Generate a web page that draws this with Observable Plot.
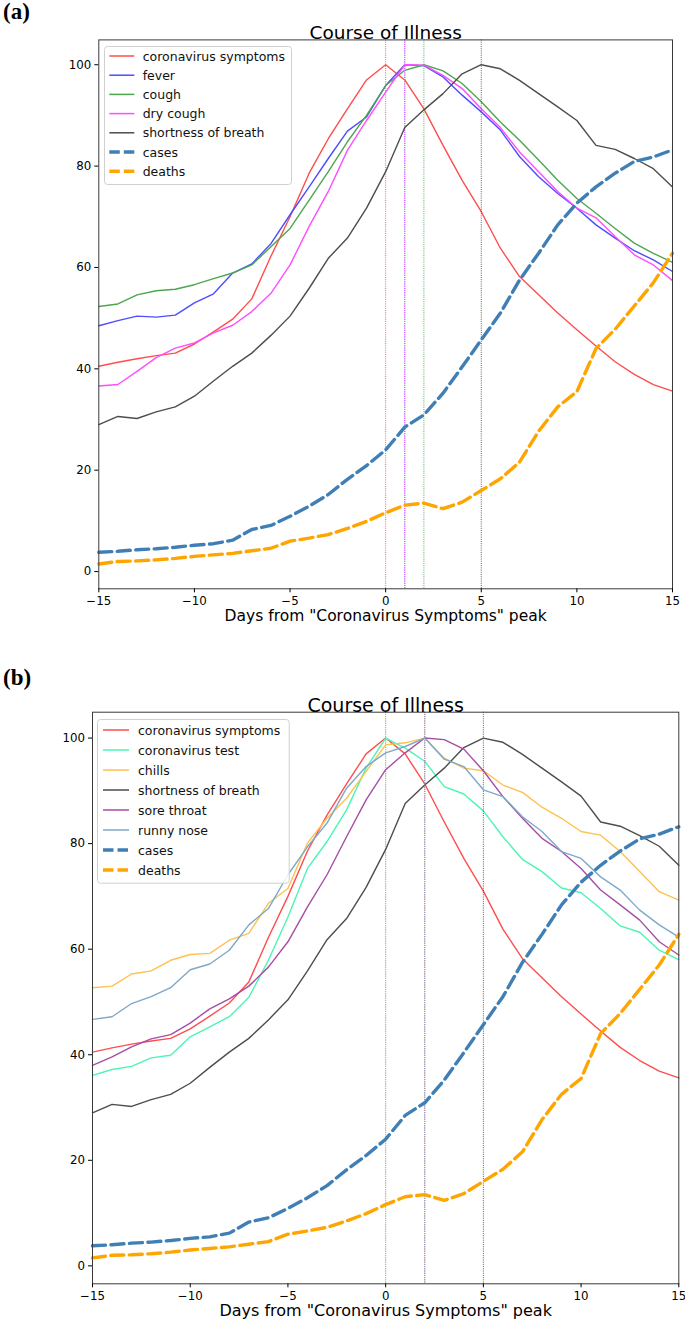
<!DOCTYPE html>
<html><head><meta charset="utf-8">
<script src="https://cdn.jsdelivr.net/npm/d3@7"></script>
<script src="https://cdn.jsdelivr.net/npm/@observablehq/plot@0.6"></script>
<style>
body{margin:0;background:#fff;font-family:"DejaVu Sans",sans-serif;}
#root{position:relative;width:685px;height:1325px;overflow:hidden;background:#fff;}
.abs{position:absolute;display:block;}
.plabel{position:absolute;font-family:"Liberation Serif","Times New Roman",serif;font-weight:bold;font-size:23px;line-height:1;color:#000;}
</style></head><body><div id="root"></div>
<script>
// ---- data ----
const days = [-15,-14,-13,-12,-11,-10,-9,-8,-7,-6,-5,-4,-3,-2,-1,0,1,2,3,4,5,6,7,8,9,10,11,12,13,14,15];
const xTicks = [-15,-10,-5,0,5,10,15];
const yTicks = [0,20,40,60,80,100];

const symptoms = [40.5,41.3,42.0,42.6,43.1,44.9,47.3,49.8,53.8,62.2,70.0,78.6,85.4,91.3,97.0,100,
  97.0,91.3,84.1,77.2,71.0,63.8,58.2,54.6,51.0,47.7,44.5,41.4,38.9,36.9,35.6];
const fever = [48.5,49.5,50.4,50.2,50.6,53.0,54.8,58.9,60.7,64.7,70.4,75.9,81.5,86.9,89.7,95.9,
  100,99.8,97.6,94.0,90.7,87.1,81.9,77.9,74.6,71.7,68.4,65.8,63.3,61.5,59.2];
const cough = [52.3,52.8,54.6,55.4,55.7,56.6,57.8,58.9,60.5,64.1,67.7,73.3,78.9,84.8,90.0,95.9,
  98.9,100,98.8,96.3,92.7,88.7,85.1,81.2,77.2,73.6,70.7,67.7,64.8,62.8,61.0];
const dryCough = [36.6,36.9,39.5,42.2,44.1,45.1,47.1,48.6,51.3,54.9,60.5,68.1,75.0,83.1,89.0,94.6,
  100,99.9,97.9,95.3,91.3,87.6,82.8,78.9,75.0,71.7,69.8,66.1,62.5,60.5,57.4];
const shortnessOfBreath = [29.0,30.6,30.2,31.5,32.5,34.6,37.6,40.5,43.1,46.6,50.4,55.9,61.8,65.8,71.7,78.9,
  87.6,91.1,94.3,98.2,100,99.2,96.9,94.3,91.7,89.0,84.1,83.3,81.5,79.5,75.9];
const coronavirusTest = [36.1,37.2,37.8,39.4,39.9,43.4,45.3,47.2,50.9,57.9,66.1,75.3,80.4,86.4,94.3,100,
  98.1,95.6,90.8,89.4,86.2,81.3,77.0,74.7,71.6,70.7,67.7,64.4,63.2,59.8,58.0];
const chills = [52.7,53.0,55.3,55.9,57.9,59.0,59.2,61.7,63.0,68.7,71.5,80.1,84.8,88.6,93.7,98.7,
  99.1,100,96.2,94.3,93.8,91.1,89.7,86.9,84.8,82.3,81.6,78.5,74.7,70.9,69.3];
const soreThroat = [38.0,39.6,41.5,43.0,43.8,46.0,48.7,50.6,53.0,56.6,61.4,68.0,74.1,81.3,88.3,94.0,
  97.2,100,99.7,97.9,93.8,88.9,84.8,81.0,78.5,75.3,71.2,68.4,65.5,61.4,58.9];
const runnyNose = [46.7,47.2,49.7,51.0,52.7,56.1,57.2,59.8,64.6,67.7,74.1,79.4,83.9,90.5,94.6,97.2,
  98.4,100,96.0,94.6,90.2,88.9,85.1,82.3,78.5,77.2,73.7,71.2,67.4,64.6,62.3];
const cases = [3.8,4.0,4.3,4.5,4.8,5.2,5.5,6.2,8.3,9.1,10.9,12.9,15.2,18.2,20.9,24.0,
  28.5,30.9,35.2,40.4,45.7,51.0,57.5,62.8,68.4,72.7,75.9,78.6,80.9,81.8,83.2];
const deaths = [1.5,2.0,2.1,2.3,2.6,3.0,3.3,3.6,4.1,4.6,6.0,6.6,7.3,8.5,9.9,11.6,
  13.1,13.5,12.4,13.7,16.0,18.3,21.6,27.7,32.5,35.5,44.0,47.8,52.4,57.0,62.8];

const panelASeries = ["coronavirus symptoms","fever","cough","dry cough","shortness of breath"];
const panelBSeries = ["coronavirus symptoms","coronavirus test","chills","shortness of breath","sore throat","runny nose"];
const outcomeSeries = ["cases","deaths"];

const title = "Course of Illness";
const xLabel = "Days from \"Coronavirus Symptoms\" peak";

// ---- lookup & styles ----
const VALUES = {
  "coronavirus symptoms": symptoms, "fever": fever, "cough": cough, "dry cough": dryCough,
  "shortness of breath": shortnessOfBreath, "coronavirus test": coronavirusTest, "chills": chills,
  "sore throat": soreThroat, "runny nose": runnyNose, "cases": cases, "deaths": deaths
};
const COLORS = {
  "coronavirus symptoms": "#ff4d4d", "fever": "#4d4dff", "cough": "#4da64d", "dry cough": "#ff4dff",
  "shortness of breath": "#4d4d4d", "coronavirus test": "#4cf5b2", "chills": "#ffc04d",
  "sore throat": "#a64da6", "runny nose": "#7ea8ca", "cases": "#3f7fb5", "deaths": "#ffa500"
};

function rowsOf(name){ return VALUES[name].map((v,i)=>({day: days[i], value: v, series: name})); }

function makePanel(cfg){
  const marks = [];
  cfg.series.forEach(name => {
    marks.push(Plot.line(rowsOf(name), {x:"day", y:"value", stroke: COLORS[name], strokeWidth: 1.4}));
    const peak = [{day: days[d3.maxIndex(VALUES[name])]}];
    marks.push(Plot.ruleX(peak, {x:"day", stroke: COLORS[name], strokeWidth: 0.9, strokeDasharray: "1,1.2"}));
  });
  outcomeSeries.forEach(name => {
    marks.push(Plot.line(rowsOf(name), {x:"day", y:"value", stroke: COLORS[name], strokeWidth: 3.4, strokeDasharray: "13,5.5"}));
  });
  marks.push(Plot.frame({stroke:"#3a3a3a", strokeWidth:1}));
  marks.push(Plot.axisX({ticks: xTicks, tickSize: 4, tickPadding: 3.5, label: null, tickFormat: d => d < 0 ? "\u2212" + (-d) : String(d)}));
  marks.push(Plot.axisY({ticks: yTicks, tickSize: 4, tickPadding: 3.5, label: null}));
  marks.push(Plot.text([title], {text: d => d, frameAnchor: "top", dy: cfg.titleDy, fontSize: cfg.titleSize, fill: "#000"}));
  marks.push(Plot.text([xLabel], {text: d => d, frameAnchor: "bottom", dy: 31.7, fontSize: cfg.labelSize, fill: "#000"}));
  const svg = Plot.plot({
    width: 685, height: cfg.height,
    marginTop: cfg.mt, marginBottom: cfg.mb, marginLeft: cfg.ml, marginRight: cfg.mr,
    x: {domain: [-15, 15]},
    y: {domain: [-3.4, 104.9]},
    style: {fontFamily: "'DejaVu Sans', sans-serif", fontSize: "11.8px", color: "#000", background: "transparent", overflow: "visible"},
    marks
  });
  svg.classList.add("abs");
  svg.style.left = "0px";
  svg.style.top = cfg.top + "px";
  document.getElementById("root").appendChild(svg);
}

function makeLegend(names, box){
  const svg = d3.select("#root").append("svg").attr("class","abs")
    .style("left", box.left + "px").style("top", box.top + "px")
    .attr("width", box.w + 1).attr("height", box.h + 1);
  svg.append("rect").attr("x",0.5).attr("y",0.5).attr("width",box.w).attr("height",box.h)
    .attr("rx",3).attr("fill","rgba(255,255,255,0.85)").attr("stroke","#d0d0d0");
  names.forEach((n,i) => {
    const cy = box.first + i*box.step;
    const dashed = outcomeSeries.includes(n);
    svg.append("line").attr("x1",box.hx0).attr("x2",box.hx1).attr("y1",cy).attr("y2",cy)
      .attr("stroke",COLORS[n]).attr("stroke-width", dashed ? 3.4 : 1.5)
      .attr("stroke-dasharray", dashed ? "10.5,4" : null);
    svg.append("text").attr("x",box.tx).attr("y",cy).attr("dy","0.36em").text(n)
      .style("font-family","'DejaVu Sans', sans-serif").style("font-size","12.5px").attr("fill","#111");
  });
}

// ---- panel (a) ----
const la = document.createElement("div"); la.className = "plabel"; la.style.left = "3px"; la.style.top = "0px"; la.textContent = "(a)";
document.getElementById("root").appendChild(la);
makePanel({series: panelASeries, top: 0, height: 640, mt: 39.4, mb: 51.7, ml: 98.3, mr: 13, titleDy: -14.4, titleSize: 18.5, labelSize: 15.5});
makeLegend(panelASeries.concat(outcomeSeries), {left: 104, top: 46, w: 187, h: 138, first: 10, step: 19.2, hx0: 5.3, hx1: 30.3, tx: 38.7});

// ---- panel (b) ----
const lb = document.createElement("div"); lb.className = "plabel"; lb.style.left = "3px"; lb.style.top = "665.5px"; lb.textContent = "(b)";
document.getElementById("root").appendChild(lb);
makePanel({series: panelBSeries, top: 660, height: 665, mt: 51.7, mb: 41.7, ml: 92, mr: 6.7, titleDy: -13.7, titleSize: 19, labelSize: 16});
makeLegend(panelBSeries.concat(outcomeSeries), {left: 97.3, top: 719, w: 191.7, h: 163.7, first: 11, step: 20, hx0: 6, hx1: 32, tx: 41});
</script></body></html>
